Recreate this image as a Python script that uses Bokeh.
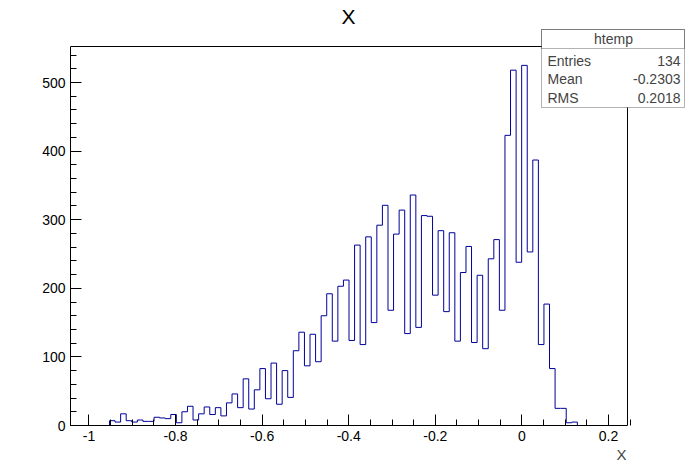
from bokeh.plotting import figure
from bokeh.models import Range1d, FixedTicker, Label, BoxAnnotation, Title
from bokeh.embed import file_html
from bokeh.resources import INLINE

# ---------------- data ----------------
x_min = -1.0427
x_max = 0.2440
y_max = 552.5

counts = [
    0, 0, 0, 0, 0, 0, 0, 7, 5, 17,
    7, 5, 8, 6, 6, 12, 11, 10, 16, 4,
    20, 28, 8, 17, 27, 16, 26, 14, 33, 46,
    26, 68, 24, 52, 83, 39, 91, 31, 80, 41,
    109, 136, 87, 133, 93, 160, 192, 123, 203, 212,
    124, 263, 118, 275, 150, 292, 321, 168, 279, 314,
    134, 336, 143, 306, 305, 190, 284, 166, 281, 123,
    223, 261, 121, 219, 112, 243, 271, 168, 423, 518,
    238, 525, 253, 387, 118, 177, 83, 25, 25, 4,
    5, 0, 0, 0, 0, 0, 0, 0, 0, 0,
]

x_ticks = [-1.0, -0.8, -0.6, -0.4, -0.2, 0.0, 0.2]
x_tick_labels = ["-1", "-0.8", "-0.6", "-0.4", "-0.2", "0", "0.2"]
y_ticks = [0, 100, 200, 300, 400, 500]
y_tick_labels = ["0", "100", "200", "300", "400", "500"]

title_text = "X"
x_title_text = "X"
stats_title = "htemp"
stats_names = ["Entries", "Mean", "RMS"]
stats_values = ["134", "-0.2303", "0.2018"]

# ---------------- layout (page pixels) ----------------
FONT = "Liberation Sans"
W, H = 688, 464
AX_L, AX_R, AX_T, AX_B = 70, 627, 46, 425   # ROOT frame in page px
FL, FB = AX_L, AX_B                         # Bokeh frame left / bottom
px_x = (x_max - x_min) / (AX_R - AX_L)
px_y = y_max / (AX_B - AX_T)
x_ext = x_min + (W - AX_L) * px_x          # frame extends to the right edge
y_ext = AX_B * px_y                        # frame extends to the top edge

# ---------------- histogram outline ----------------
n = len(counts)
bw = (x_max - x_min) / n
edges = [x_min + i * bw for i in range(n + 1)]
xs = [edges[0]]
ys = [0]
for i, c in enumerate(counts):
    xs += [edges[i], edges[i + 1]]
    ys += [c, c]
xs.append(edges[-1])
ys.append(0)

p = figure(width=W, height=H, output_backend="svg", toolbar_location=None,
           title=None,
           x_range=Range1d(x_min, x_ext), y_range=Range1d(0, y_ext),
           min_border_left=AX_L, min_border_right=0,
           min_border_top=0, min_border_bottom=H - AX_B)
p.background_fill_color = "white"
p.border_fill_color = "white"
p.outline_line_color = None
p.grid.visible = False

# ROOT frame top and right edges
p.line([x_min, x_max, x_max], [y_max, y_max, 0], line_color="black", line_width=1)

p.line(xs, ys, line_color="#000099", line_width=1)

for ax in (p.xaxis[0], p.yaxis[0]):
    ax.axis_line_color = "black"
    ax.major_tick_line_color = "black"
    ax.minor_tick_line_color = "black"
    ax.major_tick_in = 11
    ax.major_tick_out = 0
    ax.minor_tick_in = 6
    ax.minor_tick_out = 0
    ax.major_label_text_font = FONT
    ax.major_label_text_font_size = "14px"
    ax.major_label_text_color = "black"
    ax.major_label_standoff = 5

x_minor = [round(-1.05 + 0.05 * i, 2) for i in range(27)]
p.xaxis[0].ticker = FixedTicker(ticks=x_ticks, minor_ticks=x_minor)
p.xaxis[0].major_label_overrides = {t: l for t, l in zip(x_ticks, x_tick_labels)}
p.xaxis[0].bounds = (x_min, x_max)
y_minor = [20 * i for i in range(28)]
p.yaxis[0].ticker = FixedTicker(ticks=y_ticks, minor_ticks=y_minor)
p.yaxis[0].major_label_overrides = {t: l for t, l in zip(y_ticks, y_tick_labels)}
p.yaxis[0].bounds = (0, y_max)


def sx(px):
    return px - FL


def sy(py):
    return FB - py


p.add_layout(Label(x=sx(348), y=sy(16), x_units="screen", y_units="screen",
                   text=title_text, text_font=FONT, text_font_size="21px",
                   text_align="center", text_baseline="middle", text_color="black"))

p.add_layout(Title(text=x_title_text, align="right", offset=W - 626,
                   text_font=FONT, text_font_size="15px", text_font_style="normal",
                   standoff=0), "below")

# stats box
p.add_layout(BoxAnnotation(left=sx(541), right=sx(684), top=sy(29), bottom=sy(107),
                           left_units="screen", right_units="screen",
                           top_units="screen", bottom_units="screen",
                           fill_color="white", fill_alpha=1.0,
                           line_color="black", line_width=1, level="overlay"))
p.add_layout(BoxAnnotation(left=sx(541), right=sx(684), top=sy(29), bottom=sy(48),
                           left_units="screen", right_units="screen",
                           top_units="screen", bottom_units="screen",
                           fill_alpha=0.0,
                           line_color="black", line_width=1, level="overlay"))
p.add_layout(Label(x=sx(613), y=sy(38.5), x_units="screen", y_units="screen",
                   text=stats_title, text_font=FONT, text_font_size="14px",
                   text_align="center", text_baseline="middle", level="overlay"))
for i, (nm, vl) in enumerate(zip(stats_names, stats_values)):
    yy = sy(60 + 18.5 * i)
    p.add_layout(Label(x=sx(547), y=yy, x_units="screen", y_units="screen",
                       text=nm, text_font=FONT, text_font_size="14px",
                       text_align="left", text_baseline="middle", level="overlay"))
    p.add_layout(Label(x=sx(680), y=yy, x_units="screen", y_units="screen",
                       text=vl, text_font=FONT, text_font_size="14px",
                       text_align="right", text_baseline="middle", level="overlay"))

open("out.html", "w").write(file_html(p, INLINE))
